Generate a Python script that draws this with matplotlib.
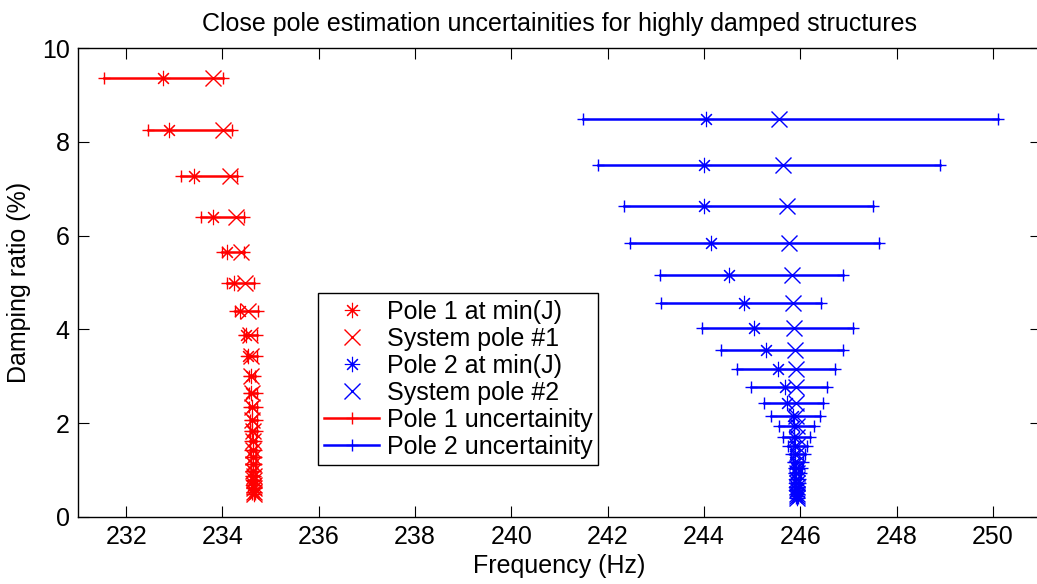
import matplotlib.pyplot as plt
import numpy as np

plt.rcParams['font.family'] = ['Liberation Sans', 'DejaVu Sans']
FS = 18
plt.rc('font', size=FS)

# pole 1 (red): damping ratio (%), estimate at min(J), system pole, uncertainty bounds (Hz)
zeta1 = [9.37, 8.25, 7.27, 6.39, 5.64, 4.98, 4.39, 3.88, 3.43, 3.01, 2.64, 2.35, 2.07,
         1.83, 1.62, 1.43, 1.27, 1.12, 0.99, 0.88, 0.78, 0.69, 0.61, 0.54, 0.48]
est1 = [232.77, 232.88, 233.40, 233.81, 234.09, 234.23, 234.37, 234.49, 234.54, 234.59,
        234.60, 234.61, 234.62, 234.62, 234.63, 234.63, 234.63, 234.64, 234.64, 234.64,
        234.64, 234.64, 234.65, 234.65, 234.65]
sys1 = [233.80, 234.01, 234.16, 234.28, 234.39, 234.47, 234.54, 234.58, 234.59, 234.60,
        234.61, 234.62, 234.62, 234.63, 234.63, 234.64, 234.64, 234.64, 234.64, 234.65,
        234.65, 234.65, 234.65, 234.65, 234.65]
lo1 = [231.53, 232.46, 233.13, 233.55, 233.99, 234.10, 234.26, 234.44, 234.51, 234.55,
       234.55, 234.56, 234.57, 234.57, 234.58, 234.58, 234.59, 234.59, 234.60, 234.60,
       234.61, 234.61, 234.62, 234.62, 234.62]
hi1 = [234.01, 234.20, 234.30, 234.44, 234.44, 234.66, 234.73, 234.71, 234.71, 234.68,
       234.72, 234.72, 234.71, 234.71, 234.70, 234.70, 234.69, 234.69, 234.68, 234.68,
       234.68, 234.67, 234.67, 234.67, 234.67]

# pole 2 (blue)
zeta2 = [8.49, 7.51, 6.63, 5.84, 5.16, 4.56, 4.02, 3.56, 3.15, 2.77, 2.44, 2.16, 1.93,
         1.71, 1.51, 1.34, 1.18, 1.05, 0.93, 0.82, 0.73, 0.64, 0.57, 0.50, 0.45, 0.40]
est2 = [244.04, 244.00, 244.00, 244.15, 244.53, 244.83, 245.04, 245.28, 245.53, 245.68,
        245.72, 245.84, 245.86, 245.88, 245.89, 245.90, 245.90, 245.91, 245.91, 245.92,
        245.92, 245.92, 245.92, 245.93, 245.93, 245.93]
sys2 = [245.56, 245.64, 245.73, 245.77, 245.82, 245.85, 245.87, 245.89, 245.91, 245.91,
        245.92, 245.92, 245.93, 245.93, 245.93, 245.93, 245.93, 245.93, 245.93, 245.93,
        245.93, 245.93, 245.93, 245.93, 245.93, 245.93]
lo2 = [241.48, 241.80, 242.34, 242.46, 243.08, 243.10, 243.95, 244.35, 244.69, 244.97,
       245.25, 245.40, 245.55, 245.65, 245.74, 245.80, 245.84, 245.86, 245.88, 245.89,
       245.90, 245.90, 245.91, 245.91, 245.91, 245.92]
hi2 = [250.11, 248.90, 247.51, 247.63, 246.89, 246.43, 247.10, 246.89, 246.72, 246.56,
       246.48, 246.40, 246.28, 246.20, 246.14, 246.09, 246.06, 246.03, 246.01, 246.00,
       245.99, 245.98, 245.97, 245.96, 245.96, 245.95]

fig = plt.figure(figsize=(10.37, 5.84), dpi=100)
ax = fig.add_axes([78/1037, 67/584, 963/1037, 469/584])

red, blue = (1, 0, 0), (0, 0, 1)
star = (8, 2, 0)
h1, = ax.plot(est1, zeta1, ls='none', marker=star, ms=11, mew=0.8, color=red, label='Pole 1 at min(J)')
h2, = ax.plot(sys1, zeta1, ls='none', marker='x', ms=12, mew=1.0, color=red, label='System pole #1')
h3, = ax.plot(est2, zeta2, ls='none', marker=star, ms=11, mew=0.8, color=blue, label='Pole 2 at min(J)')
h4, = ax.plot(sys2, zeta2, ls='none', marker='x', ms=12, mew=1.0, color=blue, label='System pole #2')

l1 = ax.plot(np.array([lo1, hi1]), np.array([zeta1, zeta1]), '-+', color=red, lw=1.8, ms=9, mew=1.0)
l2 = ax.plot(np.array([lo2, hi2]), np.array([zeta2, zeta2]), '-+', color=blue, lw=1.8, ms=9, mew=1.0)
l1[0].set_label('Pole 1 uncertainity')
l2[0].set_label('Pole 2 uncertainity')

ax.set_xlim(231, 251)
ax.set_ylim(0, 10)
ax.set_xticks(np.arange(232, 251, 2))
ax.set_yticks(np.arange(0, 11, 2))
ax.tick_params(direction='in', length=8, top=True, right=True, width=0.8, pad=6)
for s in ax.spines.values():
    s.set_linewidth(1.0)

ax.set_xlabel('Frequency (Hz)', labelpad=3)
ax.set_ylabel('Damping ratio (%)', labelpad=8)
ax.set_title('Close pole estimation uncertainities for highly damped structures', fontsize=FS, pad=12)

leg = ax.legend(handles=[h1, h2, h3, h4, l1[0], l2[0]], loc='lower left',
                bbox_to_anchor=(0.249, 0.111), fontsize=FS, fancybox=False,
                framealpha=1, edgecolor='black', handlelength=2.2, handletextpad=0.3,
                labelspacing=0.12, borderpad=0.25, borderaxespad=0)
leg.get_frame().set_linewidth(1.0)

fig.savefig('out.png', dpi=100)
